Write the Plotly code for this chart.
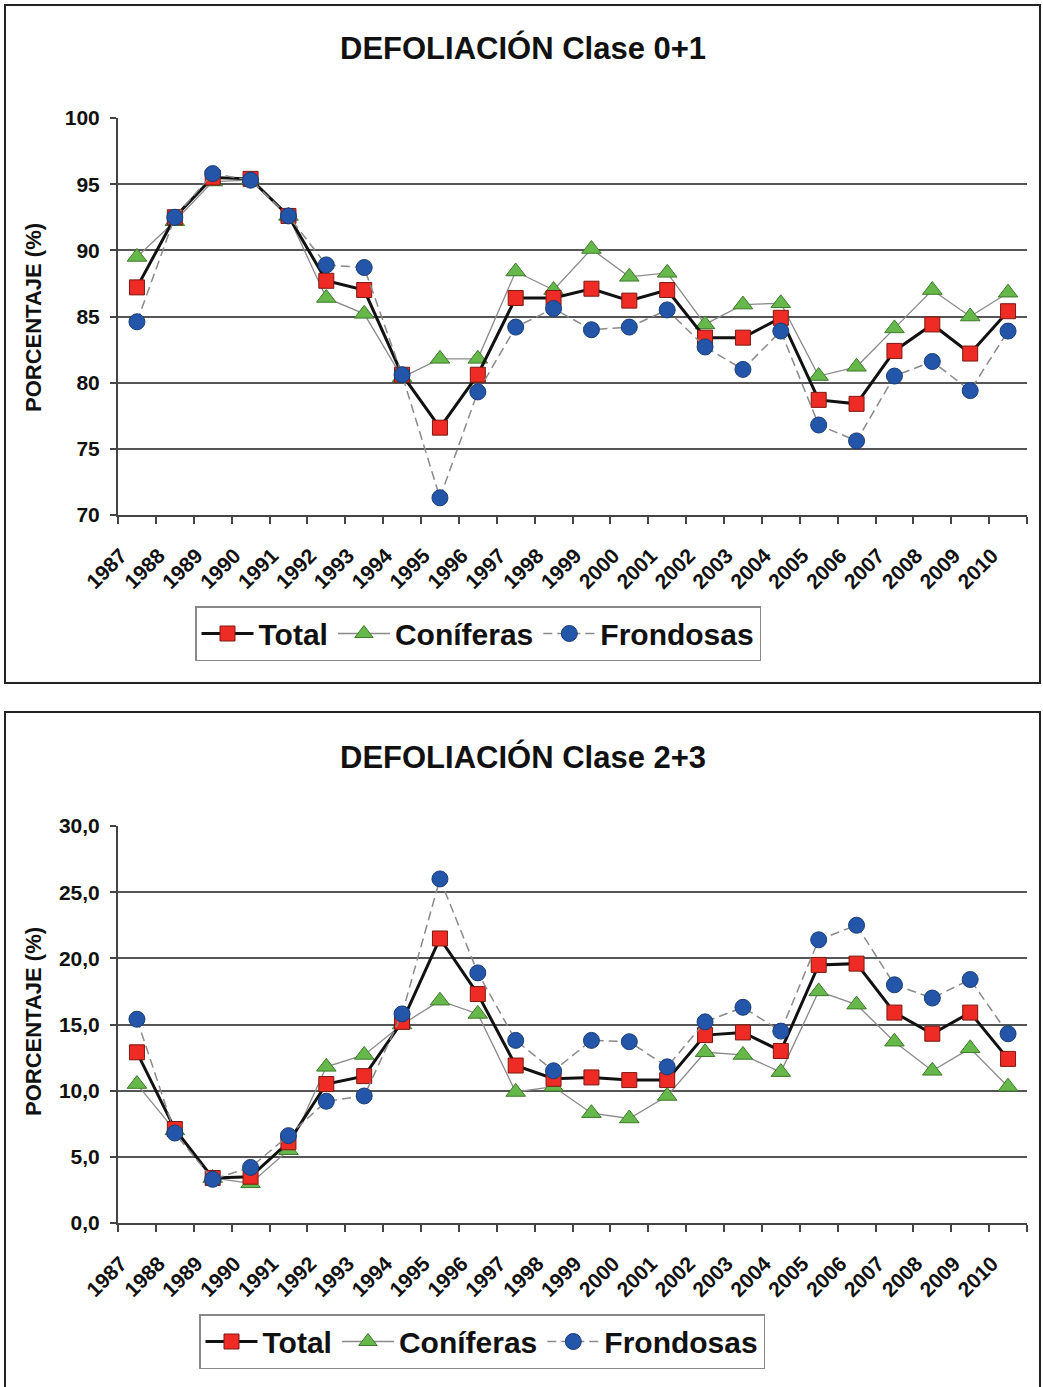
"""Defoliación charts: clase 0+1 and clase 2+3, 1987-2010."""

import plotly.graph_objects as go

YEARS = [str(y) for y in range(1987, 2011)]

# Clase 0+1 (%)
TOTAL_01 = [87.2, 92.5, 95.5, 95.4, 92.6, 87.7, 87.0, 80.6, 76.6, 80.6, 86.4, 86.4,
            87.1, 86.2, 87.0, 83.4, 83.4, 84.9, 78.7, 78.4, 82.4, 84.4, 82.2, 85.4]
CONIF_01 = [89.5, 92.2, 95.2, 95.3, 92.6, 86.4, 85.2, 80.4, 81.8, 81.8, 88.4, 87.0,
            90.1, 88.0, 88.3, 84.4, 85.9, 86.0, 80.5, 81.2, 84.1, 87.0, 85.0, 86.8]
FROND_01 = [84.6, 92.5, 95.8, 95.3, 92.6, 88.9, 88.7, 80.6, 71.3, 79.3, 84.2, 85.6,
            84.0, 84.2, 85.5, 82.7, 81.0, 83.9, 76.8, 75.6, 80.5, 81.6, 79.4, 83.9]

# Clase 2+3 (%)
TOTAL_23 = [12.9, 7.1, 3.4, 3.5, 6.1, 10.5, 11.1, 15.2, 21.5, 17.3, 11.9, 10.9,
            11.0, 10.8, 10.8, 14.2, 14.4, 13.0, 19.5, 19.6, 15.9, 14.3, 15.9, 12.4]
CONIF_23 = [10.5, 7.0, 3.4, 3.0, 5.5, 11.8, 12.7, 15.0, 16.8, 15.8, 9.9, 10.3,
            8.3, 7.9, 9.6, 12.9, 12.7, 11.4, 17.5, 16.5, 13.7, 11.5, 13.2, 10.3]
FROND_23 = [15.4, 6.8, 3.3, 4.2, 6.6, 9.2, 9.6, 15.8, 26.0, 18.9, 13.8, 11.5,
            13.8, 13.7, 11.8, 15.2, 16.3, 14.5, 21.4, 22.5, 18.0, 17.0, 18.4, 14.3]

W, H = 1043, 1387
FONT = "Liberation Sans, Arial, sans-serif"
GRID = "#555555"


def px_x(x):
    return x / W


def px_y(y):
    return 1 - y / H


def add_series(fig, xa, ya, legend, total, conif, frond):
    # draw order: coníferas, total, frondosas (legend order via legendrank)
    fig.add_trace(go.Scatter(
        x=YEARS, y=conif, name="Coníferas", xaxis=xa, yaxis=ya, legend=legend,
        legendrank=2, mode="lines+markers",
        line=dict(color="#8a8a8a", width=1.3),
        marker=dict(symbol="triangle-up", size=17, color="#66b84a",
                    line=dict(color="#3d7a2a", width=1)),
    ))
    fig.add_trace(go.Scatter(
        x=YEARS, y=total, name="Total", xaxis=xa, yaxis=ya, legend=legend,
        legendrank=1, mode="lines+markers",
        line=dict(color="#111111", width=3),
        marker=dict(symbol="square", size=15, color="#ee2b24",
                    line=dict(color="#7a1a12", width=1)),
    ))
    fig.add_trace(go.Scatter(
        x=YEARS, y=frond, name="Frondosas", xaxis=xa, yaxis=ya, legend=legend,
        legendrank=3, mode="lines+markers",
        line=dict(color="#8a8a8a", width=1.5, dash="9px,5px"),
        marker=dict(symbol="circle", size=16, color="#2356a8",
                    line=dict(color="#1a3d78", width=1)),
    ))


fig = go.Figure()
add_series(fig, "x", "y", "legend", TOTAL_01, CONIF_01, FROND_01)
add_series(fig, "x2", "y2", "legend2", TOTAL_23, CONIF_23, FROND_23)

xaxis_common = dict(
    type="category", range=[-0.5, 23.5], tickson="boundaries", automargin=False,
    ticks="outside", ticklen=7, tickwidth=1.5, tickcolor="#444",
    showline=True, linecolor="#444", linewidth=2, showgrid=False,
    tickangle=-45, ticklabelshift=-16, ticklabelstandoff=18,
    tickfont=dict(family=FONT, size=21, color="#111", weight="bold"),
)
yaxis_common = dict(
    ticks="outside", ticklen=6, tickwidth=1.5, tickcolor="#444", automargin=False,
    showline=True, linecolor="#444", linewidth=2,
    showgrid=True, gridcolor=GRID, gridwidth=2, zeroline=False,
    dtick=5, ticklabelstandoff=6,
    tickfont=dict(family=FONT, size=21, color="#111", weight="bold"),
)

legend_common = dict(
    orientation="h", xanchor="left", yanchor="top",
    bgcolor="white", bordercolor="#888", borderwidth=1.5,
    font=dict(family=FONT, size=30, color="#111", weight="bold"),
    itemwidth=52, tracegroupgap=0,
)

fig.update_layout(
    width=W, height=H, autosize=False,
    margin=dict(l=0, r=0, t=0, b=0, autoexpand=False),
    paper_bgcolor="white", plot_bgcolor="white",
    separators=", ",
    showlegend=True,
    xaxis=dict(**xaxis_common, domain=[px_x(118), px_x(1027)], anchor="y"),
    yaxis=dict(**yaxis_common, domain=[px_y(515), px_y(118)], range=[70, 100],
               anchor="x"),
    xaxis2=dict(**xaxis_common, domain=[px_x(118), px_x(1027)], anchor="y2"),
    yaxis2=dict(**yaxis_common, domain=[px_y(1223), px_y(826)], range=[0, 30],
                tickformat=".1f", anchor="x2"),
    legend=dict(**legend_common, x=px_x(195), y=px_y(606)),
    legend2=dict(**legend_common, x=px_x(199), y=px_y(1314)),
    shapes=[
        dict(type="rect", xref="paper", yref="paper",
             x0=px_x(5), x1=px_x(1040), y0=px_y(683), y1=px_y(5),
             line=dict(color="#222", width=2)),
        dict(type="rect", xref="paper", yref="paper",
             x0=px_x(5), x1=px_x(1040), y0=px_y(1392), y1=px_y(712),
             line=dict(color="#222", width=2)),
    ],
)

title_font = dict(family=FONT, size=31, color="#111", weight="bold")
ytitle_font = dict(family=FONT, size=22, color="#111", weight="bold")
for title, ty, ay in [("DEFOLIACIÓN Clase 0+1", 48, 318),
                      ("DEFOLIACIÓN Clase 2+3", 757, 1022)]:
    fig.add_annotation(text=title, xref="paper", yref="paper",
                       x=px_x(523), y=px_y(ty), showarrow=False,
                       xanchor="center", yanchor="middle", font=title_font)
    fig.add_annotation(text="PORCENTAJE (%)", xref="paper", yref="paper",
                       x=px_x(33), y=px_y(ay), showarrow=False, textangle=-90,
                       xanchor="center", yanchor="middle", font=ytitle_font)

# page body margin would shift the figure by 8px
fig.write_html("out.html", config={"displayModeBar": False},
               post_script="document.body.style.margin = '0px';")
